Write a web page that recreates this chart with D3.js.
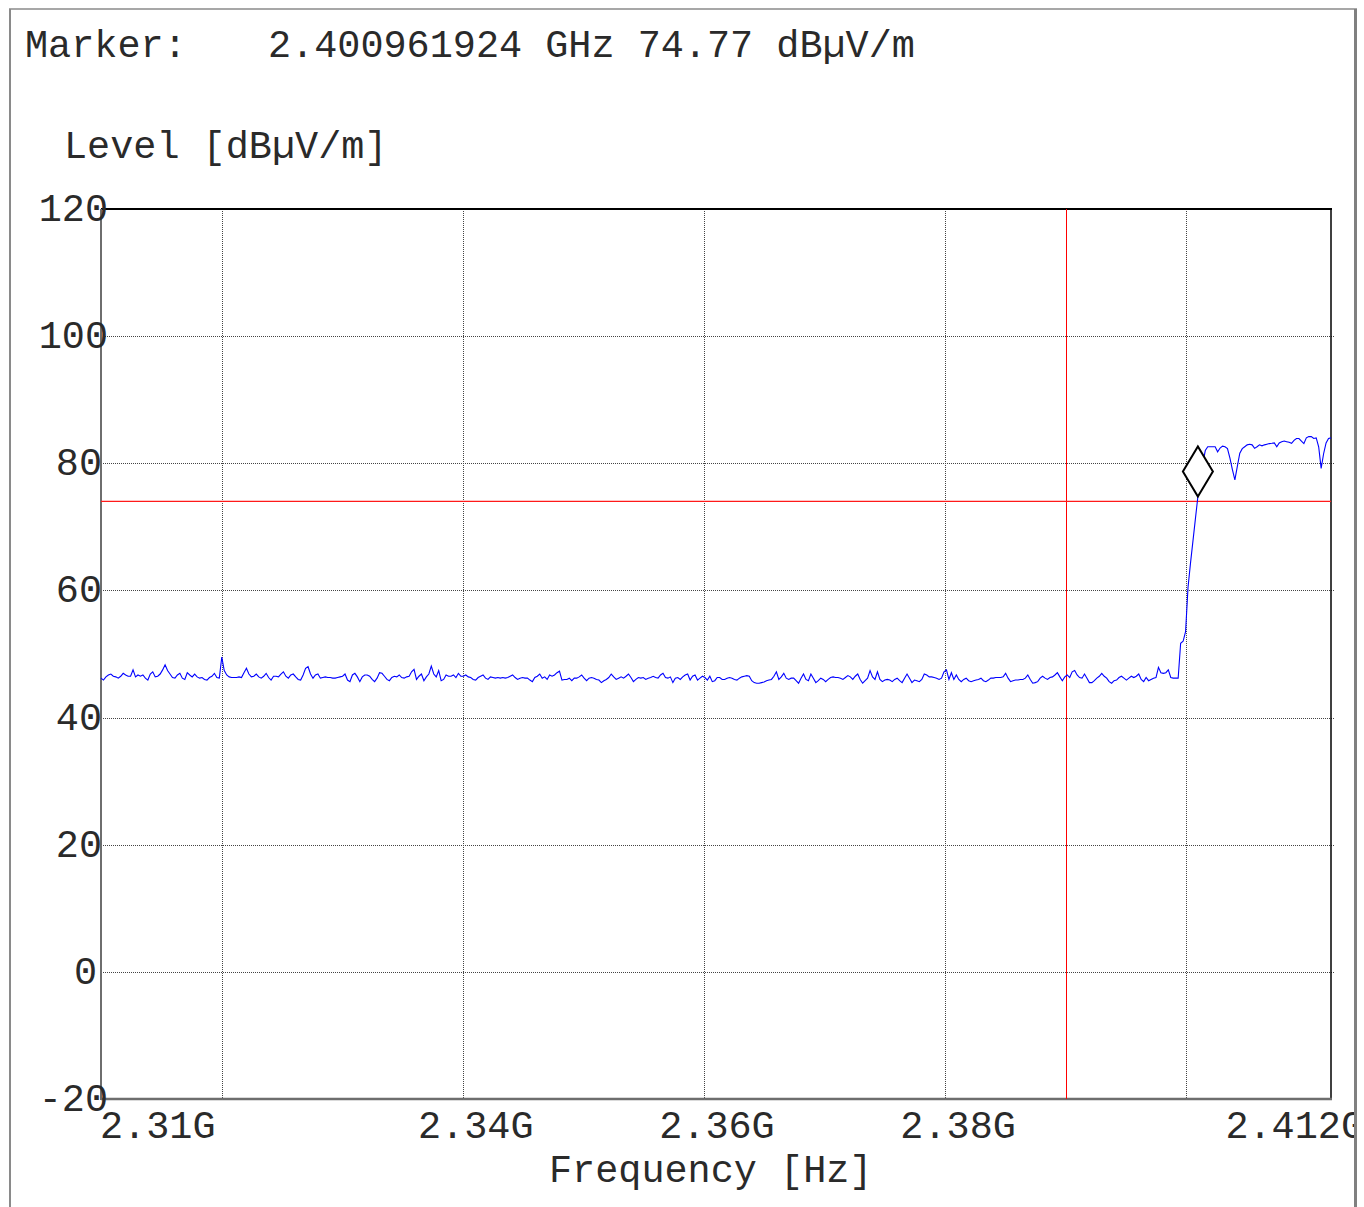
<!DOCTYPE html>
<html>
<head>
<meta charset="utf-8">
<script src="https://cdn.jsdelivr.net/npm/d3@7"></script>
<style>
  html, body { margin: 0; padding: 0; background: #fff; }
  svg { display: block; }
  text { font-family: "Liberation Mono", "Courier New", monospace; fill: #2a2a2a; }
</style>
</head>
<body>
<svg id="chart" width="1364" height="1207"></svg>
<script>
// ---------------- data ----------------
const startGHz = 2.31;
const stopGHz = 2.412;
const limitLine = 74;          // dBµV/m
const bandEdgeGHz = 2.39;
const markerGHz = 2.400961924;
const markerLevel = 74.77;
const yTicks = [-20, 0, 20, 40, 60, 80, 100, 120];
const xGridTicks = [2.32, 2.34, 2.36, 2.38, 2.40];
const xTickLabels = [
  { v: 2.31, label: "2.31G" },
  { v: 2.34, label: "2.34G" },
  { v: 2.36, label: "2.36G" },
  { v: 2.38, label: "2.38G" },
  { v: 2.412, label: "2.412G" }
];
// measured level, 500 sweep points (dBµV/m)
const levels = [
  46.2,45.9,46.4,46.7,46.85,46.5,46.4,46.2,46.5,46.96,
  46.7,46.5,46.5,47.5,46.4,46.7,46.5,46.7,46.2,45.9,
  46.85,47.2,46.4,46.5,46.85,47.5,48.3,47.4,46.85,46.3,
  46.2,46.7,46.96,46.2,46.0,47.06,46.7,46.4,46.85,46.4,
  46.2,46.3,46.0,45.9,46.3,46.5,46.96,46.3,46.2,49.5,
  47.4,46.7,46.4,46.3,46.3,46.3,46.4,46.3,47.06,47.75,
  46.85,46.4,46.5,46.85,46.4,46.2,46.5,46.96,46.3,45.9,
  46.5,46.5,46.4,46.85,47.2,46.5,46.2,46.7,46.85,46.4,
  46.0,45.9,46.7,47.75,48.0,46.85,46.2,46.7,46.85,46.2,
  46.3,46.4,46.3,46.3,46.2,46.2,46.3,46.4,46.5,46.85,
  45.9,45.65,46.7,46.96,46.4,45.65,46.4,46.7,46.7,46.5,
  46.0,
  45.65,46.2,47.06,46.96,46.5,46.0,45.8,46.3,46.5,
  46.4,46.7,46.3,46.2,46.4,46.5,47.2,47.6,46.0,46.5,
  46.85,45.8,46.4,46.85,48.1,46.85,46.4,47.4,45.8,46.0,
  46.7,46.5,46.5,46.7,46.3,46.96,46.5,46.5,46.7,46.4,
  46.3,46.0,45.9,46.3,46.5,46.7,46.2,46.0,46.4,46.3,
  46.2,46.3,46.2,46.3,46.2,46.3,46.5,46.7,46.3,46.0,
  46.2,46.3,46.2,46.2,45.9,45.65,46.3,46.5,46.85,46.2,
  46.4,46.0,46.7,46.5,46.7,47.06,47.3,45.9,46.0,46.0,
  46.2,45.8,46.2,46.2,46.4,46.7,46.2,45.8,46.2,46.3,
  46.2,46.0,45.9,45.5,45.8,46.0,46.3,46.85,46.4,46.0,
  46.2,46.4,46.2,46.5,46.85,46.3,45.65,46.0,46.3,46.2,
  46.3,
  46.0,46.2,46.3,46.5,46.3,46.2,46.7,46.96,46.3,
  46.2,46.4,45.5,46.2,46.3,46.0,46.4,46.7,46.85,45.9,
  46.5,46.7,45.9,46.2,46.5,46.3,45.9,46.5,45.65,45.8,
  46.3,46.3,46.0,46.0,46.2,46.3,46.2,46.0,45.9,46.2,
  46.4,46.5,46.6,46.5,45.8,45.5,45.4,45.4,45.5,45.6,
  45.8,45.9,46.0,46.5,47.2,46.0,46.4,46.96,46.2,46.0,
  46.2,46.2,45.8,45.4,46.2,46.85,46.0,45.8,46.85,46.2,
  45.5,45.8,46.2,46.0,45.65,46.0,46.3,46.4,46.3,46.3,
  46.2,46.0,46.3,46.6,46.4,46.0,46.5,46.85,46.0,45.4,
  45.8,46.2,47.4,46.4,46.0,47.2,46.0,45.65,45.9,46.0,
  45.9,45.65,46.0,46.2,45.8,45.5,46.2,46.85,46.2,45.5,
  45.9,
  45.8,45.65,46.0,46.85,46.7,46.4,46.4,46.3,46.2,
  46.0,46.2,47.2,47.5,46.0,47.06,46.0,46.7,46.0,45.65,
  46.0,46.2,45.8,45.65,45.8,45.9,46.0,46.2,45.8,45.65,
  45.9,46.2,46.2,46.3,46.3,46.3,46.4,46.96,46.2,45.65,
  45.8,45.9,45.9,46.0,46.0,46.2,46.7,46.0,45.4,45.5,
  45.65,46.2,46.5,46.2,46.0,46.3,46.4,46.7,47.06,46.4,
  45.8,46.4,46.7,46.3,47.2,47.4,46.7,46.3,46.2,46.85,
  46.2,45.5,45.5,45.8,46.2,46.5,46.96,46.5,46.2,45.65,
  45.4,45.8,45.9,46.3,46.5,46.2,45.9,46.2,46.5,46.3,
  46.5,46.85,46.0,45.65,46.3,45.8,46.0,46.2,46.3,47.9,
  47.06,46.96,47.06,47.5,46.3,46.2,46.2,46.2,
  51.7,52.0,53.5,60.5,64.3,67.8,71.3,74.77,77.6,80.0,
  82.0,82.6,82.6,82.6,82.6,81.8,82.4,82.7,82.6,82.3,
  80.8,79.0,77.4,79.5,81.6,82.3,82.6,82.9,83.0,82.9,
  82.35,82.6,82.9,82.75,82.9,83.0,83.1,83.14,83.2,82.6,
  83.2,83.4,83.5,83.4,83.3,83.14,83.6,83.9,83.9,83.5,
  83.1,84.0,84.2,84.2,83.9,84.0,82.6,79.2,81.5,83.2,
  83.9,84.0
];

// ---------------- layout ----------------
const svg = d3.select("#chart");
const plot = { left: 101, right: 1331, top: 209, bottom: 1099 };
const x = d3.scaleLinear().domain([startGHz, stopGHz]).range([plot.left, plot.right]);
const y = d3.scaleLinear().domain([-20, 120]).range([plot.bottom, plot.top]);
const step = (stopGHz - startGHz) / (levels.length - 1);
const trace = levels.map((v, i) => ({ f: startGHz + i * step, v }));

svg.append("defs").append("clipPath").attr("id", "frameClip")
  .append("rect").attr("x", 0).attr("y", 0).attr("width", 1354).attr("height", 1207);

const root = svg.append("g").attr("clip-path", "url(#frameClip)");

// grid
root.append("g").selectAll("line").data(yTicks.filter(t => t > -20 && t < 120)).join("line")
  .attr("x1", plot.left).attr("x2", plot.right + 3)
  .attr("y1", d => Math.round(y(d)) + 0.5).attr("y2", d => Math.round(y(d)) + 0.5)
  .attr("stroke", "#444").attr("stroke-width", 1).attr("stroke-dasharray", "1,1");
root.append("g").selectAll("line").data(xGridTicks).join("line")
  .attr("x1", d => Math.round(x(d)) + 0.5).attr("x2", d => Math.round(x(d)) + 0.5)
  .attr("y1", plot.top).attr("y2", plot.bottom)
  .attr("stroke", "#444").attr("stroke-width", 1).attr("stroke-dasharray", "1,1");

// plot borders
root.append("line").attr("x1", plot.left).attr("x2", plot.right + 1).attr("y1", plot.top).attr("y2", plot.top)
  .attr("stroke", "#000").attr("stroke-width", 2);
root.append("line").attr("x1", plot.right).attr("x2", plot.right).attr("y1", plot.top).attr("y2", plot.bottom)
  .attr("stroke", "#000").attr("stroke-width", 1.5);
root.append("line").attr("x1", plot.left).attr("x2", plot.left).attr("y1", plot.top).attr("y2", plot.bottom + 1)
  .attr("stroke", "#6e6e6e").attr("stroke-width", 2);
root.append("line").attr("x1", plot.left).attr("x2", plot.right + 1).attr("y1", plot.bottom).attr("y2", plot.bottom)
  .attr("stroke", "#6e6e6e").attr("stroke-width", 2.5);

// limit lines
root.append("line").attr("x1", Math.round(x(bandEdgeGHz)) + 0.5).attr("x2", Math.round(x(bandEdgeGHz)) + 0.5)
  .attr("y1", plot.top).attr("y2", plot.bottom).attr("stroke", "#ff0000").attr("stroke-width", 1);
root.append("line").attr("x1", plot.left).attr("x2", plot.right)
  .attr("y1", y(limitLine)).attr("y2", y(limitLine))
  .attr("stroke", "#ff1a1a").attr("stroke-width", 1.3);

// trace
root.append("path").datum(trace)
  .attr("d", d3.line().x(d => x(d.f)).y(d => y(d.v)))
  .attr("fill", "none").attr("stroke", "#0000ff").attr("stroke-width", 1.1);

// marker diamond (bottom vertex on the marker point)
const mx = x(markerGHz), my = y(markerLevel);
root.append("path")
  .attr("d", `M${mx},${my} L${mx + 15},${my - 25} L${mx},${my - 50} L${mx - 15},${my - 25} Z`)
  .attr("fill", "#fff").attr("stroke", "#000").attr("stroke-width", 2);

// y tick labels (right edge depends on label width, as in the original)
const fs = 38.5;
const yLabelRight = { 1: 97, 2: 102, 3: 108 };
root.append("g").selectAll("text").data(yTicks).join("text")
  .attr("x", d => yLabelRight[String(d).length])
  .attr("y", d => y(d) + 12)
  .attr("text-anchor", "end").attr("font-size", fs).text(d => d);

// x tick labels
root.append("g").selectAll("text").data(xTickLabels).join("text")
  .attr("x", (d, i) => i === 0 ? x(d.v) - 1 : (i === xTickLabels.length - 1 ? x(d.v) + 33 : x(d.v) + 13))
  .attr("y", 1138)
  .attr("text-anchor", (d, i) => i === 0 ? "start" : (i === xTickLabels.length - 1 ? "end" : "middle"))
  .attr("font-size", fs).text(d => d.label);

// titles
root.append("text").attr("x", 25).attr("y", 57).attr("font-size", fs).text("Marker:");
root.append("text").attr("x", 268).attr("y", 57).attr("font-size", fs).text("2.400961924 GHz 74.77 dBµV/m");
root.append("text").attr("x", 64).attr("y", 158).attr("font-size", fs).text("Level [dBµV/m]");
root.append("text").attr("x", 549).attr("y", 1182).attr("font-size", fs).text("Frequency [Hz]");

// outer frame (drawn last, on top)
svg.append("line").attr("x1", 10).attr("x2", 10).attr("y1", 9).attr("y2", 1207)
  .attr("stroke", "#8a8a8a").attr("stroke-width", 2);
svg.append("line").attr("x1", 9).attr("x2", 1357).attr("y1", 9).attr("y2", 9)
  .attr("stroke", "#8a8a8a").attr("stroke-width", 1.5);
svg.append("line").attr("x1", 1355.5).attr("x2", 1355.5).attr("y1", 9).attr("y2", 1207)
  .attr("stroke", "#808080").attr("stroke-width", 3);
</script>
</body>
</html>
